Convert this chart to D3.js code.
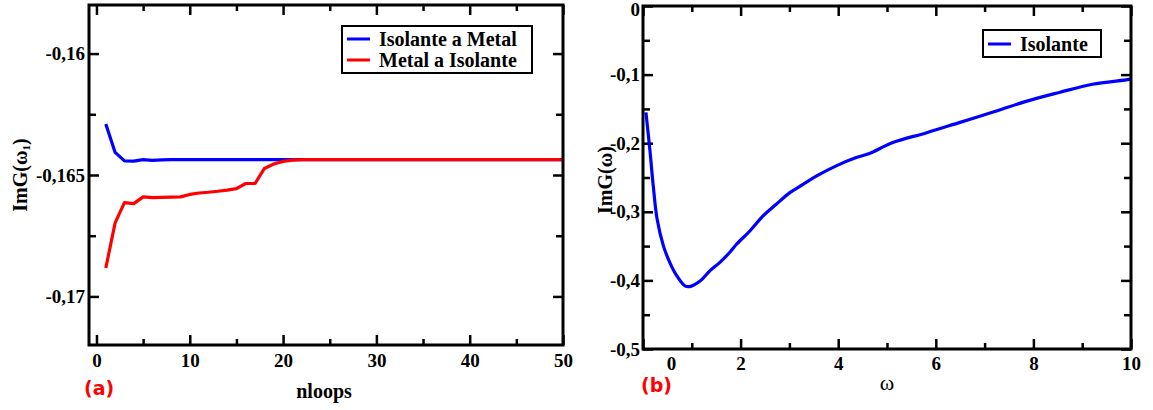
<!DOCTYPE html>
<html><head><meta charset="utf-8">
<script src="https://cdn.jsdelivr.net/npm/d3@7"></script>
<style>
body{margin:0;background:#fff;}
text{font-family:"Liberation Serif","Times New Roman",serif;}
</style></head>
<body>
<svg id="c" width="1153" height="410"></svg>
<script>
// ---- Data: panel (a) ----
const nloops = d3.range(1, 51);
const isolanteAMetal = [-0.1629,-0.16407,-0.16442,-0.16443,-0.16437,-0.1644,-0.16438,-0.16437,-0.16437,-0.16437,
  -0.16437,-0.16437,-0.16437,-0.16437,-0.16437,-0.16437,-0.16437,-0.16437,-0.16437,-0.16437,
  -0.16437,-0.16437,-0.16437,-0.16437,-0.16437,-0.16437,-0.16437,-0.16437,-0.16437,-0.16437,
  -0.16437,-0.16437,-0.16437,-0.16437,-0.16437,-0.16437,-0.16437,-0.16437,-0.16437,-0.16437,
  -0.16437,-0.16437,-0.16437,-0.16437,-0.16437,-0.16437,-0.16437,-0.16437,-0.16437,-0.16437];
const metalAIsolante = [-0.16883,-0.16697,-0.16614,-0.16618,-0.1659,-0.16593,-0.16592,-0.16591,-0.1659,-0.1658,
  -0.16574,-0.16571,-0.16567,-0.16562,-0.16556,-0.16535,-0.16535,-0.16473,-0.16455,-0.16444,
  -0.16439,-0.16437,-0.16437,-0.16437,-0.16437,-0.16437,-0.16437,-0.16437,-0.16437,-0.16437,
  -0.16437,-0.16437,-0.16437,-0.16437,-0.16437,-0.16437,-0.16437,-0.16437,-0.16437,-0.16437,
  -0.16437,-0.16437,-0.16437,-0.16437,-0.16437,-0.16437,-0.16437,-0.16437,-0.16437,-0.16437];
const xTicksA = [0,10,20,30,40,50];
const xMinorA = [5,15,25,35,45];
const yTicksA = [-0.17,-0.165,-0.16];
const yMinorA = [-0.1675,-0.1625];
const legendA = ["Isolante a Metal","Metal a Isolante"];

// ---- Data: panel (b) ----
const omega = [0.06,0.14,0.21,0.29,0.42,0.55,0.69,0.86,0.96,1.17,1.37,1.57,1.78,1.92,2.19,2.46,2.73,3.01,3.28,3.55,3.96,4.37,4.64,5.12,5.80,6.48,7.16,7.85,8.53,9.21,9.96,10.0];
const imG = [-0.155,-0.209,-0.262,-0.311,-0.350,-0.374,-0.393,-0.408,-0.409,-0.401,-0.386,-0.374,-0.359,-0.347,-0.328,-0.306,-0.289,-0.272,-0.260,-0.248,-0.233,-0.221,-0.215,-0.199,-0.185,-0.170,-0.155,-0.139,-0.126,-0.114,-0.107,-0.106];
const xTicksB = [0,2,4,6,8,10];
const xMinorB = [1,3,5,7,9];
const yTicksB = [-0.5,-0.4,-0.3,-0.2,-0.1,0];
const yMinorB = [-0.45,-0.35,-0.25,-0.15,-0.05];
const legendB = ["Isolante"];

const svg = d3.select("#c");
const comma = f => (v => d3.format(f)(v).replace("−","-").replace(".",","));

function styleAxis(g){
  g.select(".domain").remove();
  g.selectAll("line").attr("stroke","#000").attr("stroke-width",2.5);
  g.selectAll("text").attr("fill","#000").style("font-size","19px").style("font-weight","bold")
    .style("font-family","'Liberation Serif',serif");
}

function panel(o){
  const x = d3.scaleLinear().domain(o.xd).range([o.L,o.R]);
  const y = d3.scaleLinear().domain(o.yd).range([o.B,o.T]);
  const g = svg.append("g");
  g.append("g").attr("transform",`translate(0,${o.B})`)
    .call(d3.axisBottom(x).tickValues(o.xt).tickSize(-10).tickPadding(o.xpad).tickFormat(d=>String(d)))
    .call(styleAxis).call(o.xfix || (()=>{}));
  g.append("g").attr("transform",`translate(0,${o.B})`)
    .call(d3.axisBottom(x).tickValues(o.xm).tickSize(-6).tickFormat("")).call(styleAxis);
  g.append("g").attr("transform",`translate(0,${o.T})`)
    .call(d3.axisTop(x).tickValues(o.xt).tickSize(-10).tickFormat("")).call(styleAxis);
  g.append("g").attr("transform",`translate(0,${o.T})`)
    .call(d3.axisTop(x).tickValues(o.xm).tickSize(-6).tickFormat("")).call(styleAxis);
  g.append("g").attr("transform",`translate(${o.L},0)`)
    .call(d3.axisLeft(y).tickValues(o.yt).tickSize(-10).tickPadding(o.ypad).tickFormat(o.yfmt))
    .call(styleAxis).call(o.yfix || (()=>{}));
  g.append("g").attr("transform",`translate(${o.L},0)`)
    .call(d3.axisLeft(y).tickValues(o.ym).tickSize(-7).tickFormat("")).call(styleAxis);
  g.append("g").attr("transform",`translate(${o.R},0)`)
    .call(d3.axisRight(y).tickValues(o.yt).tickSize(-10).tickFormat("")).call(styleAxis);
  g.append("g").attr("transform",`translate(${o.R},0)`)
    .call(d3.axisRight(y).tickValues(o.ym).tickSize(-7).tickFormat("")).call(styleAxis);
  const cid = "clip"+o.id;
  svg.append("clipPath").attr("id",cid).append("rect")
    .attr("x",o.L).attr("y",o.T).attr("width",o.R-o.L).attr("height",o.B-o.T);
  o.series.forEach(s=>{
    g.append("path").datum(s.x.map((v,i)=>[v,s.y[i]]))
      .attr("clip-path",`url(#${cid})`)
      .attr("fill","none").attr("stroke",s.color).attr("stroke-width",3.2)
      .attr("stroke-linejoin","round")
      .attr("d",d3.line().curve(o.curve).x(d=>x(d[0])).y(d=>y(d[1])));
  });
  g.append("rect").attr("x",o.L).attr("y",o.T).attr("width",o.R-o.L).attr("height",o.B-o.T)
    .attr("fill","none").attr("stroke","#000").attr("stroke-width",3);
  const lg = g.append("g");
  lg.append("rect").attr("x",o.leg.x).attr("y",o.leg.y).attr("width",o.leg.w).attr("height",o.leg.h)
    .attr("fill","#fff").attr("stroke","#000").attr("stroke-width",2);
  o.series.forEach((s,i)=>{
    const yy = o.leg.y + o.leg.r0 + i*21;
    lg.append("line").attr("x1",o.leg.x+5).attr("x2",o.leg.x+28).attr("y1",yy).attr("y2",yy)
      .attr("stroke",s.color).attr("stroke-width",3);
    lg.append("text").attr("x",o.leg.x+37).attr("y",yy).attr("dy","0.33em")
      .style("font-size",o.leg.fs).style("font-weight","bold").text(s.name);
  });
  g.append("text").attr("x",o.xl.x).attr("y",o.xl.y).attr("text-anchor","middle")
    .style("font-size",o.xl.size).style("font-weight",o.xl.weight).text(o.xl.t);
  const yl = g.append("text").attr("transform",`translate(${o.yl.x},${o.yl.y}) rotate(-90)`)
    .attr("text-anchor","middle").attr("dy","0.35em")
    .style("font-size","20px").style("font-weight","bold");
  yl.append("tspan").text(o.yl.t);
  if(o.yl.sub){ yl.append("tspan").attr("dy","3").style("font-size","11px").text(o.yl.sub);
    yl.append("tspan").attr("dy","-3").text(")"); }
  g.append("text").attr("x",o.pl.x).attr("y",o.pl.y).attr("dy","0.35em")
    .style("font-family","'DejaVu Sans',sans-serif").style("font-size","19px").style("font-weight","bold")
    .attr("fill","#f00").text(o.pl.t);
}

panel({id:"a", L:89, R:563, T:5, B:345, xd:[-0.8,50], yd:[-0.172,-0.158],
  xt:xTicksA, xm:xMinorA, yt:yTicksA, ym:yMinorA, xpad:9, ypad:4,
  yfmt: comma(".3~f"), curve: d3.curveLinear,
  series:[{name:legendA[0],x:nloops,y:isolanteAMetal,color:"#0000ff"},
          {name:legendA[1],x:nloops,y:metalAIsolante,color:"#ff0000"}],
  leg:{x:342,y:26,w:190,h:47,r0:13,fs:"20px"},
  xl:{t:"nloops",x:324,y:398,size:"20px",weight:"bold"},
  yl:{t:"ImG(ω",sub:"1",x:20,y:175},
  pl:{t:"(a)",x:84,y:388}
});

panel({id:"b", L:643, R:1131, T:6, B:349, xd:[0,10], yd:[-0.5,0],
  xt:xTicksB, xm:xMinorB, yt:yTicksB, ym:yMinorB, xpad:8, ypad:3,
  yfmt: comma(".1~f"), curve: d3.curveCatmullRom,
  xfix: g => g.selectAll(".tick text").filter(d=>d===0).attr("dx",28),
  yfix: g => g.selectAll(".tick text").filter(d=>d===0).attr("dy","0.5em"),
  series:[{name:legendB[0],x:omega,y:imG,color:"#0000ff"}],
  leg:{x:983,y:30,w:118,h:27,r0:14,fs:"20px"},
  xl:{t:"ω",x:887,y:390,size:"22px",weight:"normal"},
  yl:{t:"ImG(ω)",x:605,y:180},
  pl:{t:"(b)",x:641,y:385}
});
</script>
</body></html>
